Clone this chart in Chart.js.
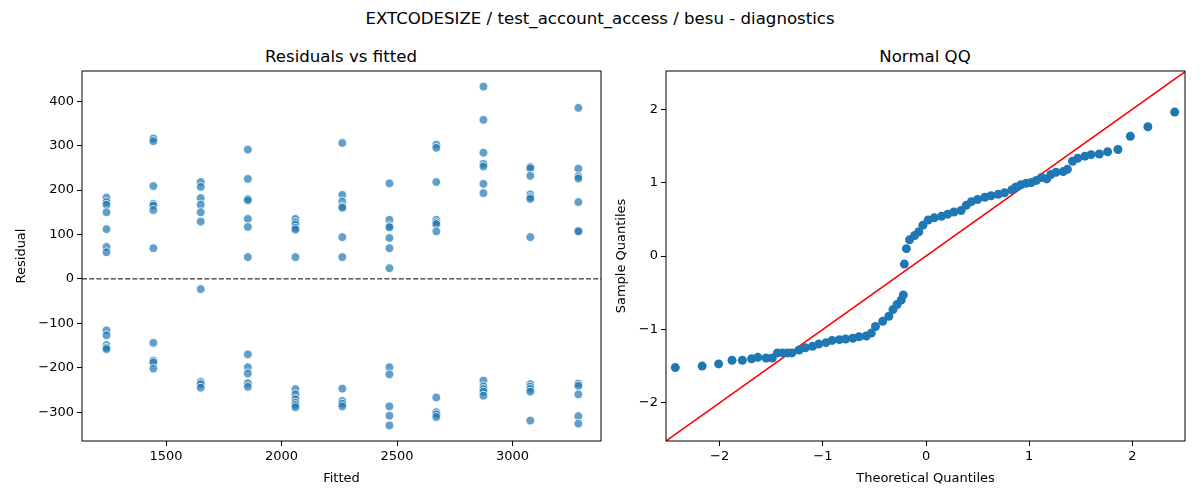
<!DOCTYPE html>
<html lang="en">
<head>
    <meta charset="UTF-8">
    <title>EXTCODESIZE diagnostics</title>
    <script src="https://cdn.jsdelivr.net/npm/chart.js"></script>
    <style>
        body {
            margin: 0;
            width: 1200px;
            height: 500px;
            background: #fff;
            font-family: "DejaVu Sans", sans-serif;
            position: relative;
            overflow: hidden;
        }
        .txt {
            position: absolute;
            color: #000;
            white-space: nowrap;
            transform: translate(-50%, -50%);
        }
        #suptitle { left: 600px; top: 18px; font-size: 16.6px; }
        .subtitle { top: 56px; font-size: 16.6px; }
        .panel {
            position: absolute;
            top: 40px;
            height: 460px;
        }
    </style>
</head>
<body>

    <div id="suptitle" class="txt">EXTCODESIZE / test_account_access / besu - diagnostics</div>
    <div class="txt subtitle" style="left: 341px;">Residuals vs fitted</div>
    <div class="txt subtitle" style="left: 925px;">Normal QQ</div>

    <div class="panel" style="left: 0; width: 610px;"><canvas id="residChart"></canvas></div>
    <div class="panel" style="left: 610px; width: 590px;"><canvas id="qqChart"></canvas></div>

    <script>
        // fitted value levels and the residuals observed at each level
        const fittedLevels = [1242, 1445, 1650, 1854, 2060, 2263, 2467, 2670, 2874, 3077, 3285];
        const residualGroups = [
            [183, 173, 167, 150, 112, 72, 60, -116, -127, -149, -155, -158],
            [316, 310, 209, 169, 165, 155, 69, -144, -184, -188, -202],
            [218, 207, 182, 167, 150, 129, -23, -232, -237, -245],
            [291, 225, 180, 177, 135, 117, 49, -170, -199, -213, -235, -243],
            [135, 127, 122, 115, 111, 49, -248, -260, -271, -279, -284, -289],
            [306, 189, 174, 163, 160, 94, 49, -247, -275, -281, -287],
            [215, 133, 119, 116, 92, 69, 24, -199, -215, -287, -308, -330],
            [302, 295, 218, 133, 127, 123, 107, -267, -300, -305, -311],
            [433, 358, 284, 259, 253, 214, 193, -229, -242, -248, -254, -263],
            [252, 249, 232, 190, 184, 180, 94, -237, -243, -248, -254, -319],
            [385, 248, 231, 226, 173, 108, 107, -236, -241, -260, -309, -326]
        ];
        const residXRange = [1136, 3383];
        const residYRange = [-365, 468];
        const residXTicks = [1500, 2000, 2500, 3000];
        const residYTicks = [-300, -200, -100, 0, 100, 200, 300, 400];

        // normal QQ points (theoretical vs sample quantiles)
        const theoretical = [
            -2.43, -2.17, -2.01, -1.88, -1.78, -1.69, -1.63, -1.55, -1.49, -1.44,
            -1.39, -1.34, -1.30, -1.23, -1.17, -1.10, -1.04, -0.97, -0.91, -0.84,
            -0.78, -0.71, -0.65, -0.58, -0.53, -0.49, -0.42, -0.36, -0.32, -0.28,
            -0.24, -0.22, -0.21, -0.19, -0.16, -0.11, -0.07, -0.03, 0.02, 0.08,
            0.15, 0.21, 0.27, 0.34, 0.39, 0.44, 0.50, 0.57, 0.63, 0.70,
            0.76, 0.83, 0.87, 0.92, 0.97, 1.02, 1.07, 1.12, 1.17, 1.21,
            1.26, 1.33, 1.37, 1.42, 1.47, 1.54, 1.60, 1.68, 1.76, 1.86,
            1.98, 2.15, 2.41
        ];
        const sample = [
            -1.52, -1.50, -1.47, -1.42, -1.42, -1.40, -1.38, -1.39, -1.39, -1.32,
            -1.32, -1.32, -1.32, -1.28, -1.25, -1.23, -1.20, -1.18, -1.15, -1.14,
            -1.13, -1.12, -1.10, -1.09, -1.05, -0.96, -0.89, -0.82, -0.73, -0.66,
            -0.60, -0.53, -0.11, 0.10, 0.22, 0.28, 0.33, 0.42, 0.49, 0.52,
            0.54, 0.57, 0.60, 0.62, 0.69, 0.74, 0.77, 0.80, 0.82, 0.84,
            0.86, 0.90, 0.94, 0.97, 0.99, 1.00, 1.03, 1.07, 1.05, 1.11,
            1.14, 1.15, 1.18, 1.29, 1.33, 1.36, 1.38, 1.39, 1.42, 1.45,
            1.63, 1.76, 1.96
        ];
        const qqXRange = [-2.52, 2.51];
        const qqYRange = [-2.52, 2.52];
        const qqTicks = [-2, -1, 0, 1, 2];

        const BLUE = '#1f77b4';
        const FONT = "'DejaVu Sans', sans-serif";

        Chart.defaults.font.family = FONT;
        Chart.defaults.color = '#000';
        Chart.defaults.animation = false;

        // draws the black frame round the plot area
        const frame = {
            id: 'frame',
            afterDraw(chart) {
                const a = chart.chartArea;
                const c = chart.ctx;
                c.save();
                c.strokeStyle = '#000';
                c.lineWidth = 1;
                c.strokeRect(a.left, a.top, a.right - a.left, a.bottom - a.top);
                c.restore();
            }
        };

        const fmt = v => String(v).replace('-', '\u2212');

        function axis(pos, range, ticks, title, size, titlePad) {
            return {
                type: 'linear',
                position: pos,
                min: range[0],
                max: range[1],
                afterBuildTicks: s => { s.ticks = ticks.map(v => ({ value: v })); },
                afterFit: s => {
                    if (pos === 'left') s.width = size; else s.height = size;
                },
                ticks: {
                    font: { size: 13 },
                    padding: 3,
                    maxRotation: 0,
                    autoSkip: false,
                    callback: v => fmt(v)
                },
                grid: {
                    drawOnChartArea: false,
                    drawTicks: true,
                    tickLength: 5,
                    color: '#000'
                },
                border: { display: false },
                title: {
                    display: true,
                    text: title,
                    font: { size: 13 },
                    padding: titlePad
                }
            };
        }

        // residuals vs fitted
        const residPoints = [];
        fittedLevels.forEach((f, i) => {
            residualGroups[i].forEach(r => residPoints.push({ x: f, y: r }));
        });

        new Chart(document.getElementById('residChart'), {
            type: 'scatter',
            data: {
                datasets: [{
                    data: residPoints,
                    backgroundColor: 'rgba(31,119,180,0.7)',
                    borderColor: '#fff',
                    borderWidth: 0.8,
                    pointRadius: 4.4
                }, {
                    type: 'line',
                    data: [{ x: residXRange[0], y: 0 }, { x: residXRange[1], y: 0 }],
                    borderColor: '#000',
                    borderWidth: 1,
                    borderDash: [5, 2.2],
                    pointRadius: 0
                }]
            },
            options: {
                responsive: true,
                maintainAspectRatio: false,
                layout: { padding: { top: 31, right: 9, left: 0, bottom: 0 } },
                plugins: { legend: { display: false }, tooltip: { enabled: false } },
                scales: {
                    x: axis('bottom', residXRange, residXTicks, 'Fitted', 59, { top: 4, bottom: 14 }),
                    y: axis('left', residYRange, residYTicks, 'Residual', 82, { top: 14, bottom: 4 })
                }
            },
            plugins: [frame]
        });

        // normal QQ
        const qqPoints = theoretical.map((t, i) => ({ x: t, y: sample[i] }));

        new Chart(document.getElementById('qqChart'), {
            type: 'scatter',
            data: {
                datasets: [{
                    data: qqPoints,
                    backgroundColor: BLUE,
                    borderColor: BLUE,
                    borderWidth: 0,
                    pointRadius: 4.5
                }, {
                    type: 'line',
                    data: [{ x: qqYRange[0], y: qqYRange[0] }, { x: qqYRange[1], y: qqYRange[1] }],
                    borderColor: '#ff0000',
                    borderWidth: 1.5,
                    pointRadius: 0
                }]
            },
            options: {
                responsive: true,
                maintainAspectRatio: false,
                layout: { padding: { top: 31, right: 15, left: 0, bottom: 0 } },
                plugins: { legend: { display: false }, tooltip: { enabled: false } },
                scales: {
                    x: axis('bottom', qqXRange, qqTicks, 'Theoretical Quantiles', 59, { top: 4, bottom: 14 }),
                    y: axis('left', qqYRange, qqTicks, 'Sample Quantiles', 56, { top: 4, bottom: 4 })
                }
            },
            plugins: [frame]
        });
    </script>

</body>
</html>
